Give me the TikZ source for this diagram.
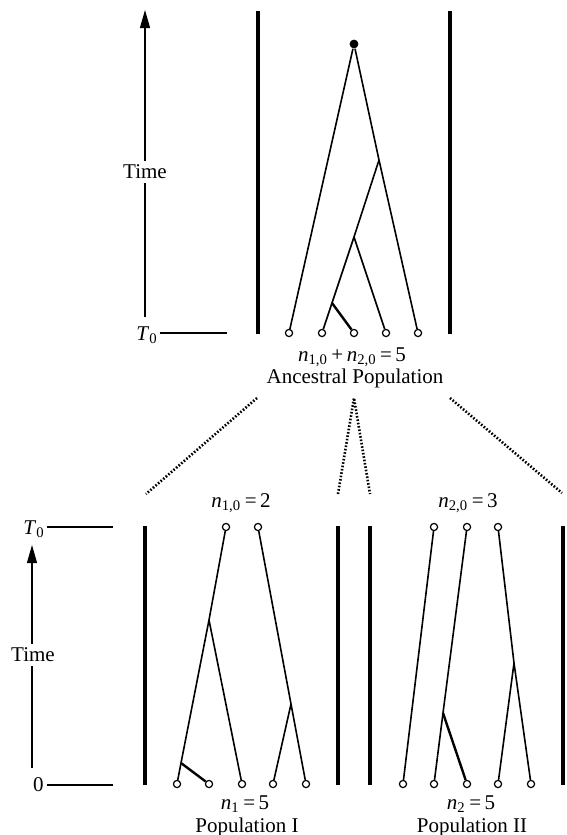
\documentclass[tikz,border=0pt]{standalone}
\usepackage{fontspec}
\setmainfont{Liberation Serif}
\usetikzlibrary{arrows.meta}
\newcommand{\nsize}[1]{\textit{n}\textsubscript{#1}}
\begin{document}
\begin{tikzpicture}[x=0.5pt,y=-0.5pt,
  wall/.style={line width=1.6pt},
  branch/.style={line width=0.8pt},
  heavy/.style={line width=1.2pt},
  leaf/.style={circle,draw,fill=white,line width=0.6pt,inner sep=0pt,minimum size=3.6pt},
  mrca/.style={circle,fill=black,inner sep=0pt,minimum size=4.4pt},
  migr/.style={line width=1.3pt,dash pattern=on 0.8pt off 0.9pt},
  lbl/.style={inner sep=0pt,font=\fontsize{10.5}{12}\selectfont},
  timeaxis/.style={line width=0.6pt,-{Triangle[length=9pt,width=5pt]}}]
\useasboundingbox (0,0) rectangle (567,835);

% ancestral population
\coordinate (aw1a) at (258,11);  \coordinate (aw1b) at (258,334);
\coordinate (aw2a) at (450,11);  \coordinate (aw2b) at (450,334);
\draw[wall] (aw1a) -- (aw1b);
\draw[wall] (aw2a) -- (aw2b);
\coordinate (ta0) at (145,317); \coordinate (ta1) at (145,10);
\draw[timeaxis] (ta0) -- (ta1);
\node[lbl,fill=white,inner sep=2pt] (timeA) at (145,172) {Time};
\coordinate (tA0) at (160,333); \coordinate (tA1) at (227,333);
\draw[branch] (tA0) -- (tA1);
\node[lbl,anchor=east] (TA) at (158,335) {\textit{T}\textsubscript{0}};

\foreach \i/\x in {1/289,2/322,3/354,4/386,5/418}
  \node[leaf] (a\i) at (\x,333) {};
\node[mrca] (top) at (354,44) {};
\coordinate (aA) at (379,160);
\coordinate (aB) at (354,237);
\coordinate (aC) at (332,303);
\draw[branch] (a1) -- (top) -- (aA) -- (a5);
\draw[branch] (aA) -- (aB) -- (a4);
\draw[branch] (aB) -- (aC) -- (a2);
\draw[heavy] (aC) -- (a3);
\node[lbl] (sumA) at (352,357) {\nsize{1,0}\,+\,\nsize{2,0}\,=\,5};
\node[lbl] (popA) at (355,378) {Ancestral Population};

% split into two populations
\coordinate (s1) at (257,398); \coordinate (e1) at (146,494);
\coordinate (s2) at (354,398); \coordinate (e2) at (338,494); \coordinate (e3) at (370,494);
\coordinate (s3) at (450,398); \coordinate (e4) at (562,493);
\draw[migr] (s1) -- (e1);
\draw[migr] (e2) -- (s2) -- (e3);
\draw[migr] (s3) -- (e4);

% populations I and II
\foreach \n/\x in {w1/145,w2/338,w3/370,w4/563}{
  \coordinate (\n a) at (\x,526); \coordinate (\n b) at (\x,785);
  \draw[wall] (\n a) -- (\n b);
}
\coordinate (tb0) at (32,768); \coordinate (tb1) at (32,545);
\draw[timeaxis] (tb0) -- (tb1);
\node[lbl,fill=white,inner sep=2pt] (timeB) at (33,655) {Time};
\coordinate (tT0) at (47,527); \coordinate (tT1) at (113,527);
\coordinate (tZ0) at (47,785); \coordinate (tZ1) at (113,785);
\draw[branch] (tT0) -- (tT1);
\draw[branch] (tZ0) -- (tZ1);
\node[lbl,anchor=east] (TB) at (45,529) {\textit{T}\textsubscript{0}};
\node[lbl,anchor=east] (zero) at (44,785) {0};

\foreach \i/\x in {1/226,2/258}
  \node[leaf] (p\i) at (\x,527) {};
\foreach \i/\x in {1/177,2/209,3/242,4/273,5/306}
  \node[leaf] (q\i) at (\x,784) {};
\coordinate (pP) at (209,620);
\coordinate (pD) at (181,763);
\coordinate (pQ) at (291,704);
\draw[branch] (p1) -- (pP) -- (pD) -- (q1);
\draw[heavy] (pD) -- (q2);
\draw[branch] (pP) -- (q3);
\draw[branch] (p2) -- (pQ) -- (q4);
\draw[branch] (pQ) -- (q5);

\foreach \i/\x in {1/434,2/467,3/498}
  \node[leaf] (u\i) at (\x,527) {};
\foreach \i/\x in {1/403,2/434,3/467,4/498,5/531}
  \node[leaf] (v\i) at (\x,784) {};
\coordinate (uR) at (443,713);
\coordinate (uS) at (514,663);
\draw[branch] (u1) -- (v1);
\draw[branch] (u2) -- (uR) -- (v2);
\draw[heavy] (uR) -- (v3);
\draw[branch] (u3) -- (uS) -- (v4);
\draw[branch] (uS) -- (v5);

\node[lbl] (n10) at (241,503) {\nsize{1,0}\,=\,2};
\node[lbl] (n20) at (468,503) {\nsize{2,0}\,=\,3};
\node[lbl] (n1) at (245,804) {\nsize{1}\,=\,5};
\node[lbl] (pop1) at (247,827) {Population I};
\node[lbl] (n2) at (471,804) {\nsize{2}\,=\,5};
\node[lbl] (pop2) at (472,827) {Population II};
\end{tikzpicture}
\end{document}
